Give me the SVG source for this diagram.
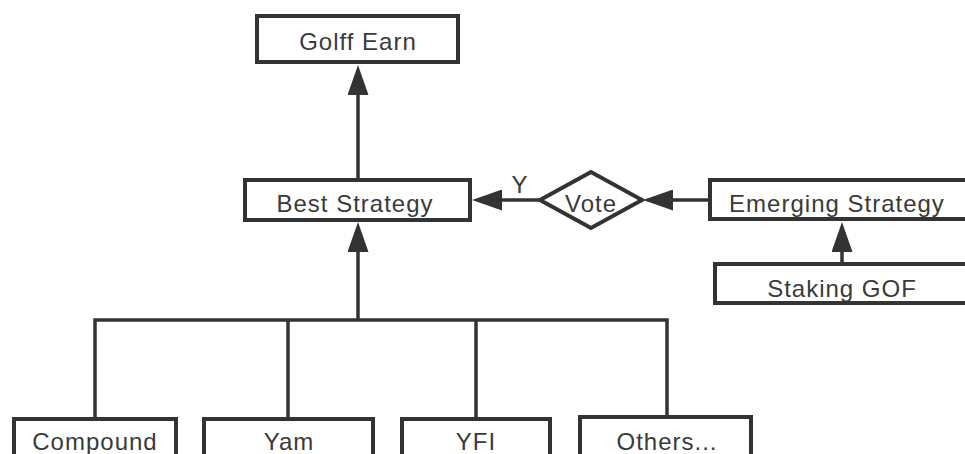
<svg xmlns="http://www.w3.org/2000/svg" width="965" height="454" viewBox="0 0 965 454">
<style>
.box{fill:#fff;stroke:#333;stroke-width:4}
.lbl{font-family:"Liberation Sans",Arial,sans-serif;font-size:24px;letter-spacing:1px;fill:#3a3a3a;text-anchor:middle}
.ln{fill:none;stroke:#333;stroke-width:3.5}
</style>
<defs>
<marker id="ah" viewBox="0 0 30 21" refX="0" refY="10.5" markerWidth="30" markerHeight="21" markerUnits="userSpaceOnUse" orient="auto">
<path d="M0,0 L30,10.5 L0,21 z" fill="#333"/>
</marker>
</defs>
<rect width="965" height="454" fill="#fff"/>
<g id="connectors">
<path class="ln" d="M358,178 V95" marker-end="url(#ah)"/>
<path class="ln" d="M358,320 V252" marker-end="url(#ah)"/>
<path class="ln" d="M540,200 H502" marker-end="url(#ah)"/>
<path class="ln" d="M708,200 H673" marker-end="url(#ah)"/>
<path class="ln" d="M842,262 V252" marker-end="url(#ah)"/>
<path class="ln" d="M95,417 V320 H667 V415 M288,320 V417 M476,320 V417"/>
<text class="lbl" x="520" y="193">Y</text>
</g>
<g id="golff-earn"><rect class="box" x="257" y="16" width="201" height="46"/><text class="lbl" x="358" y="50">Golff Earn</text></g>
<g id="best-strategy"><rect class="box" x="245" y="180" width="225" height="40"/><text class="lbl" x="355" y="212">Best Strategy</text></g>
<g id="vote"><polygon class="box" points="540,200 591,172 642,200 591,228"/><text class="lbl" x="591" y="212">Vote</text></g>
<g id="emerging-strategy"><rect class="box" x="710" y="180" width="270" height="39"/><text class="lbl" x="837" y="212">Emerging Strategy</text></g>
<g id="staking-gof"><rect class="box" x="715" y="264" width="270" height="39"/><text class="lbl" x="842" y="297">Staking GOF</text></g>
<g id="compound"><rect class="box" x="14" y="419" width="162" height="60"/><text class="lbl" x="95" y="450">Compound</text></g>
<g id="yam"><rect class="box" x="204" y="419" width="169" height="60"/><text class="lbl" x="289" y="450">Yam</text></g>
<g id="yfi"><rect class="box" x="402" y="419" width="148" height="60"/><text class="lbl" x="476" y="450">YFI</text></g>
<g id="others"><rect class="box" x="580" y="417" width="171" height="60"/><text class="lbl" x="667" y="450">Others...</text></g>
</svg>
